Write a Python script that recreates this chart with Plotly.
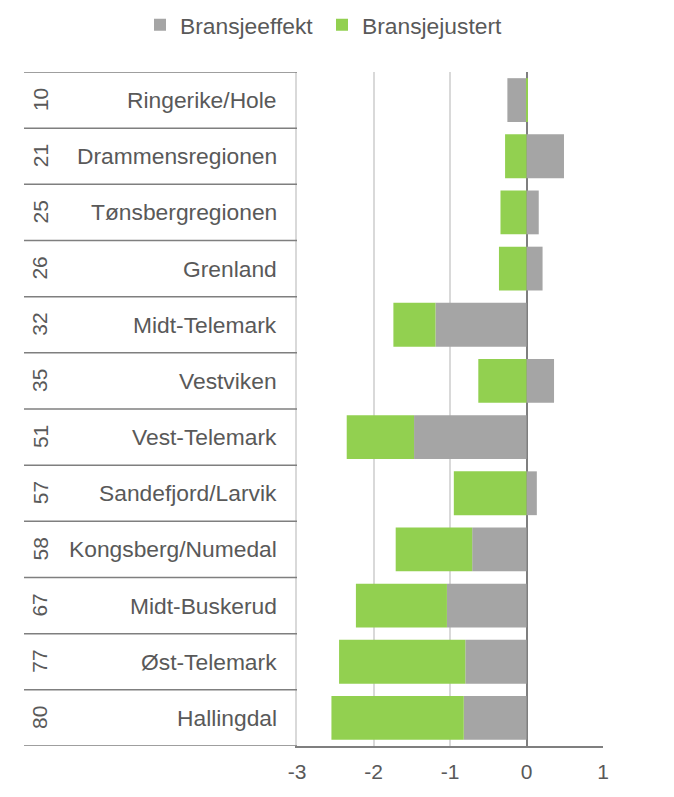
import plotly.graph_objects as go

ranks = ["10", "21", "25", "26", "32", "35", "51", "57", "58", "67", "77", "80"]
regions = ["Ringerike/Hole", "Drammensregionen", "Tønsbergregionen", "Grenland",
           "Midt-Telemark", "Vestviken", "Vest-Telemark", "Sandefjord/Larvik",
           "Kongsberg/Numedal", "Midt-Buskerud", "Øst-Telemark", "Hallingdal"]
bransjeeffekt = [-0.25, 0.49, 0.16, 0.21, -1.19, 0.36, -1.47, 0.135, -0.71, -1.04, -0.80, -0.82]
bransjejustert = [0.02, -0.28, -0.34, -0.36, -0.55, -0.63, -0.88, -0.95, -1.00, -1.19, -1.65, -1.73]
x_ticks = [-3, -2, -1, 0, 1]

GRAY = "#A5A5A5"
GREEN = "#92D050"
TXT = "#595959"
LINE = "#7F7F7F"
GRID = "#D9D9D9"
FONT = "Liberation Sans, Arial, sans-serif"

# page has an 8px body margin; figure is sized to fit the window
OFF = 8
W, H = 674 - 2 * OFF, 797 - 2 * OFF
L = 297 - OFF
T = 72 - OFF
R = W - (603 - OFF)
B = H - (746 - OFF)
pw = W - L - R
ph = H - T - B

def px_to_paper_x(page_px):
    return (page_px - OFF - L) / pw

def px_to_paper_y(page_py):
    return 1 + (T - (page_py - OFF)) / ph

fig = go.Figure()
fig.add_trace(go.Bar(y=regions, x=bransjeeffekt, orientation="h", name="Bransjeeffekt",
                     marker=dict(color=GRAY, line=dict(width=0))))
fig.add_trace(go.Bar(y=regions, x=bransjejustert, orientation="h", name="Bransjejustert",
                     marker=dict(color=GREEN, line=dict(width=0))))

n = len(regions)
shapes = []
for i in range(n + 1):
    shapes.append(dict(type="line", xref="paper", yref="y",
                       x0=px_to_paper_x(24), x1=0, y0=i - 0.5, y1=i - 0.5,
                       line=dict(color=LINE, width=1.5)))

annotations = []
for i, (rk, rg) in enumerate(zip(ranks, regions)):
    annotations.append(dict(xref="paper", yref="y", x=px_to_paper_x(40), y=i, text=rk,
                            showarrow=False, textangle=-90, xanchor="center", yanchor="middle",
                            font=dict(family=FONT, size=21, color=TXT)))
    annotations.append(dict(xref="paper", yref="y", x=px_to_paper_x(279), y=i, text=rg,
                            showarrow=False, xanchor="right", yanchor="middle",
                            font=dict(family=FONT, size=22.8, color=TXT)))

fig.update_layout(
    width=W, height=H,
    margin=dict(l=L, r=R, t=T, b=B, pad=0, autoexpand=False),
    barmode="relative",
    bargap=0.22,
    plot_bgcolor="white", paper_bgcolor="white",
    font=dict(family=FONT, size=21, color=TXT),
    showlegend=True,
    legend=dict(orientation="h", xref="paper", yref="paper",
                x=px_to_paper_x(140), y=px_to_paper_y(25), xanchor="left", yanchor="middle",
                font=dict(family=FONT, size=22.8, color=TXT),
                itemwidth=30, tracegroupgap=0, bgcolor="rgba(0,0,0,0)",
                entrywidth=137, entrywidthmode="pixels"),
    xaxis=dict(range=[-3, 1], tickvals=x_ticks, ticktext=[str(v) for v in x_ticks],
               showgrid=True, gridcolor=GRID, gridwidth=1.5,
               zeroline=True, zerolinecolor=LINE, zerolinewidth=2,
               showline=True, linecolor=LINE, linewidth=1.5, mirror=False,
               ticks="", tickfont=dict(family=FONT, size=21, color=TXT),
               ticklabelstandoff=6, fixedrange=True),
    yaxis=dict(categoryorder="array", categoryarray=regions, autorange=False,
               range=[n - 0.5, -0.5],
               showticklabels=False, showgrid=False, zeroline=False,
               showline=True, linecolor=GRID, linewidth=1.5,
               ticks=""),
    shapes=shapes,
    annotations=annotations,
)

fig.write_html("out.html")
